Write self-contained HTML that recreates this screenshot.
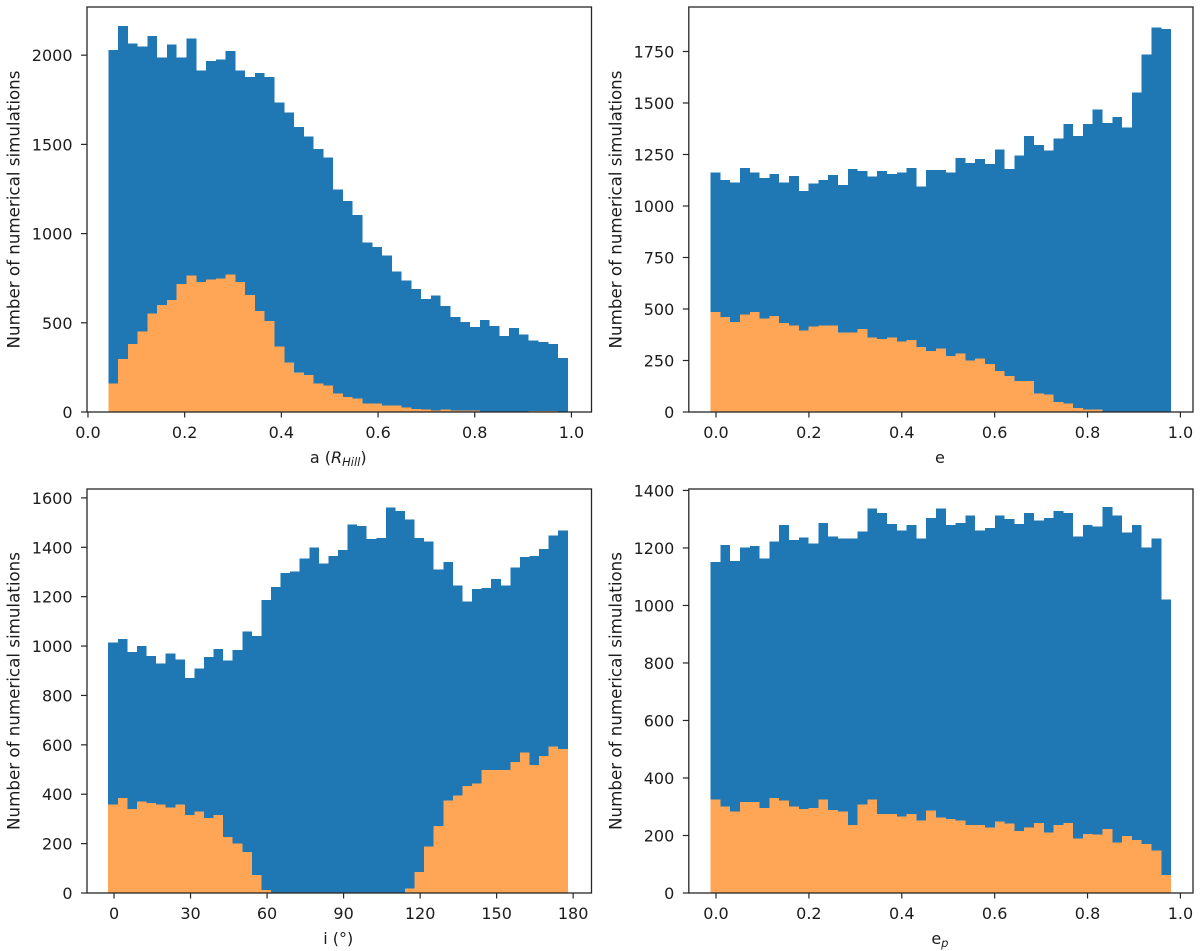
<!DOCTYPE html>
<html lang="en">
<head>
<meta charset="utf-8">
<title>Histograms of numerical simulations</title>
<style>
html,body{margin:0;padding:0;background:#fff;}
svg{display:block;filter:blur(0.35px);}
text{font-family:"DejaVu Sans","Liberation Sans",sans-serif;fill:#1c1c1c;}
</style>
</head>
<body>
<svg id="figure" xmlns="http://www.w3.org/2000/svg" width="1200" height="951" viewBox="0 0 1200 951"></svg>
<script>
const aTotal = [2030,2163,2065,2050,2108,1987,2060,1987,2093,1914,1968,1975,2024,1914,1878,1900,1878,1734,1680,1597,1543,1474,1427,1247,1183,1103,951,925,877,787,736,689,633,654,594,532,504,476,517,483,427,470,433,401,393,380,303];
const aSubset = [161,298,380,450,551,599,627,717,764,730,744,749,770,730,656,566,511,367,277,221,208,159,148,105,84,77,49,49,36,36,24,17,15,8,15,8,8,8,2,4,4,2,2,6,6,6,0];
const eTotal = [1163,1126,1114,1185,1163,1137,1155,1114,1145,1072,1108,1126,1150,1101,1179,1169,1143,1169,1156,1163,1185,1095,1174,1174,1163,1233,1208,1227,1203,1274,1179,1245,1340,1296,1269,1328,1398,1340,1398,1469,1404,1433,1380,1552,1736,1866,1858];
const eSubset = [486,460,437,473,486,455,466,433,420,396,415,420,420,386,386,404,362,354,362,343,349,315,296,309,272,285,249,260,232,198,174,150,150,90,84,48,42,19,13,13,0,0,0,0,0,0,0];
const iTotal = [1015,1028,976,1000,960,929,970,945,871,910,956,989,941,984,1059,1040,1187,1240,1295,1301,1354,1399,1334,1364,1389,1493,1487,1433,1437,1562,1546,1513,1437,1423,1310,1340,1246,1181,1231,1236,1271,1246,1319,1360,1364,1393,1448,1468];
const iSubset = [359,385,340,370,365,359,346,359,315,330,304,315,226,200,166,73,12,0,0,0,0,0,0,0,0,0,0,0,0,0,0,18,86,188,272,374,394,434,444,498,498,498,530,569,519,554,593,584];
const epTotal = [1151,1210,1155,1202,1206,1164,1223,1279,1228,1236,1215,1287,1240,1232,1232,1258,1338,1321,1283,1261,1279,1232,1304,1338,1279,1287,1313,1261,1269,1313,1301,1283,1321,1296,1304,1329,1321,1240,1279,1275,1342,1313,1253,1279,1202,1232,1020];
const epSubset = [325,300,283,317,317,296,330,321,300,292,296,325,288,284,236,308,325,274,274,266,274,252,287,262,257,252,236,236,227,249,241,215,227,244,211,236,244,189,206,203,223,176,198,185,171,147,62];

const aXTicks = [0,0.2,0.4,0.6,0.8,1];
const aYTicks = [0,500,1000,1500,2000];
const eXTicks = [0,0.2,0.4,0.6,0.8,1];
const eYTicks = [0,250,500,750,1000,1250,1500,1750];
const iXTicks = [0,30,60,90,120,150,180];
const iYTicks = [0,200,400,600,800,1000,1200,1400,1600];
const epXTicks = [0,0.2,0.4,0.6,0.8,1];
const epYTicks = [0,200,400,600,800,1000,1200,1400];

const aRange = [0.042,0.9925];
const eRange = [-0.0116,0.980];
const iRange = [-2.27,177.9];
const epRange = [-0.0116,0.980];

const aXLim = [-0.002,1.0415];
const eXLim = [-0.0586,1.0271];
const iXLim = [-10.6,187.2];
const epXLim = [-0.0586,1.0271];
const aYMax = 2270;
const eYMax = 1966;
const iYMax = 1636;
const epYMax = 1405;

const NS = 'http://www.w3.org/2000/svg';
const figure = document.getElementById('figure');
const BLUE = '#1f77b4';
const ORANGE = '#ffa556';
const INK = '#262626';
const FONT_SIZE = 16;

function make(tag, attrs, parent) {
  const el = document.createElementNS(NS, tag);
  for (const k in attrs) el.setAttribute(k, attrs[k]);
  parent.appendChild(el);
  return el;
}

function drawBars(group, values, edgeScale, yScale, range, color, prefix) {
  const step = (range[1] - range[0]) / values.length;
  values.forEach(function (v, idx) {
    if (v <= 0) return;
    const x0 = edgeScale(range[0] + idx * step);
    const x1 = edgeScale(range[0] + (idx + 1) * step);
    const y0 = yScale(v);
    const bar = make('rect', {x: x0, y: y0, width: x1 - x0, height: yScale(0) - y0, fill: color, 'shape-rendering': 'crispEdges'}, group);
    
    
  });
}

function drawPanel(p) {
  const group = make('g', {}, figure);
  
  

  const xScale = function (v) { return p.L + (v - p.xLim[0]) / (p.xLim[1] - p.xLim[0]) * (p.R - p.L); };
  const yScale = function (v) { return p.B - v / p.yMax * (p.B - p.T); };

  drawBars(group, p.total, xScale, yScale, p.range, BLUE, p.key + '-total');
  drawBars(group, p.subset, xScale, yScale, p.range, ORANGE, p.key + '-subset');

  const frame = make('rect', {x: p.L, y: p.T, width: p.R - p.L, height: p.B - p.T, fill: 'none', stroke: INK, 'stroke-width': 1.3}, group);
  
  

  p.xTicks.forEach(function (v) {
    const x = xScale(v);
    const tick = make('line', {x1: x, x2: x, y1: p.B, y2: p.B + 5.5, stroke: INK, 'stroke-width': 1.2}, group);
    
    
    const label = make('text', {x: x, y: p.B + 26, 'text-anchor': 'middle', 'font-size': FONT_SIZE}, group);
    label.textContent = p.xFormat(v);
    
    
  });

  p.yTicks.forEach(function (v) {
    const y = yScale(v);
    const tick = make('line', {x1: p.L - 6, x2: p.L, y1: y, y2: y, stroke: INK, 'stroke-width': 1.2}, group);
    
    
    const label = make('text', {x: p.L - 14.5, y: y + 6, 'text-anchor': 'end', 'font-size': FONT_SIZE}, group);
    label.textContent = String(v);
    
    
  });

  const yTitle = make('text', {transform: 'translate(' + (p.L - 67.5) + ',' + ((p.T + p.B) / 2) + ') rotate(-90)', 'text-anchor': 'middle', 'font-size': 16.7}, group);
  yTitle.textContent = 'Number of numerical simulations';
  
  

  const xTitle = make('text', {x: (p.L + p.R) / 2 - 1, y: p.B + 51, 'text-anchor': 'middle', 'font-size': FONT_SIZE}, group);
  p.xTitle.forEach(function (part) {
    const span = make('tspan', {}, xTitle);
    span.textContent = part.t;
    if (part.i) span.setAttribute('font-style', 'italic');
    if (part.sub) {
      span.setAttribute('baseline-shift', '-3');
      span.setAttribute('font-size', '11.5');
    }
  });
  
  
}

const oneDecimal = function (v) { return v.toFixed(1); };
const whole = function (v) { return String(v); };

drawPanel({key: 'semi-major-axis', L: 87, R: 591.5, T: 7, B: 412, total: aTotal, subset: aSubset, range: aRange, xLim: aXLim, yMax: aYMax, xTicks: aXTicks, yTicks: aYTicks, xFormat: oneDecimal,
  xTitle: [{t: 'a ('}, {t: 'R', i: true}, {t: 'Hill', i: true, sub: true}, {t: ')'}]});
drawPanel({key: 'eccentricity', L: 688.8, R: 1193, T: 7, B: 412, total: eTotal, subset: eSubset, range: eRange, xLim: eXLim, yMax: eYMax, xTicks: eXTicks, yTicks: eYTicks, xFormat: oneDecimal,
  xTitle: [{t: 'e'}]});
drawPanel({key: 'inclination', L: 87, R: 591.5, T: 489, B: 893, total: iTotal, subset: iSubset, range: iRange, xLim: iXLim, yMax: iYMax, xTicks: iXTicks, yTicks: iYTicks, xFormat: whole,
  xTitle: [{t: 'i (°)'}]});
drawPanel({key: 'planet-eccentricity', L: 688.8, R: 1193, T: 489, B: 893, total: epTotal, subset: epSubset, range: epRange, xLim: epXLim, yMax: epYMax, xTicks: epXTicks, yTicks: epYTicks, xFormat: oneDecimal,
  xTitle: [{t: 'e'}, {t: 'p', i: true, sub: true}]});
</script>
</body>
</html>
